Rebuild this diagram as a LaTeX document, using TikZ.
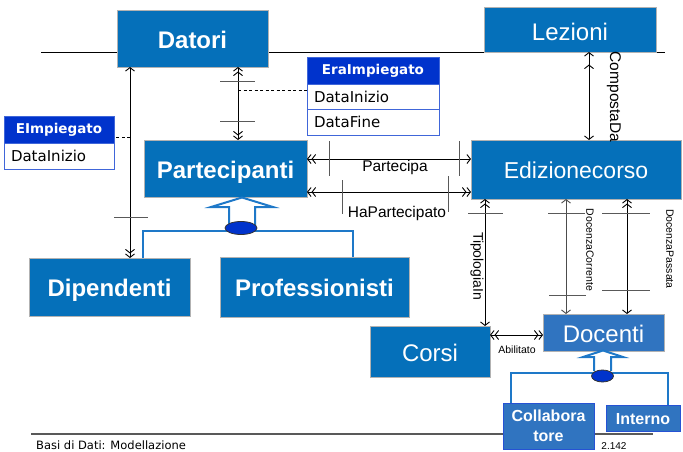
\documentclass[tikz,border=0pt]{standalone}
\usepackage{fontspec}
\setsansfont{Liberation Sans}
\newfontfamily\comicfont{DejaVu Sans}
\usetikzlibrary{arrows.meta,positioning,shapes.geometric}
\definecolor{BoxBlue}{RGB}{5,112,186}
\definecolor{SubBlue}{RGB}{48,116,192}
\definecolor{HeadBlue}{RGB}{0,51,204}
\definecolor{GenBlue}{RGB}{30,120,200}
\tikzset{
  sb/.tip={Straight Barb[length=3.5pt,width=9pt]},
  dsb/.tip={Straight Barb[length=3.5pt,width=9pt,sep=0pt] Straight Barb[length=3.5pt,width=9pt]},
  wsb/.tip={Straight Barb[length=3.5pt,width=9pt,sep=8pt] Straight Barb[length=3.5pt,width=9pt]},
  entity/.style={draw=gray!60, fill=BoxBlue, text=white, inner sep=0pt, outer sep=0pt, text height=19pt, text depth=0pt, font=\sffamily\fontsize{24}{28}\selectfont},
  strongentity/.style={entity, font=\sffamily\bfseries\fontsize{24}{28}\selectfont},
  subentity/.style={draw=HeadBlue!85, fill=SubBlue, text=white, inner sep=0pt, outer sep=0pt, align=center, font=\sffamily\bfseries\fontsize{16}{20}\selectfont},
  attrhead/.style={draw=HeadBlue!75, fill=HeadBlue, text=white, inner sep=0pt, outer sep=0pt, font=\comicfont\bfseries\fontsize{13.5}{16}\selectfont},
  attrrow/.style={draw=HeadBlue!75, fill=white, inner sep=0pt, inner xsep=7pt, outer sep=0pt, align=left, font=\comicfont\fontsize{15}{18}\selectfont},
  rel/.style={line width=0.9pt},
  tick/.style={line width=0.9pt, black!65},
  rellabel/.style={inner sep=0pt, font=\sffamily\fontsize{15.5}{18}\selectfont},
  smalllabel/.style={inner sep=0pt, font=\sffamily\fontsize{10.5}{12}\selectfont},
  isa/.style={GenBlue, line width=2pt},
  isadot/.style={ellipse, draw=black!80, fill=HeadBlue, inner sep=0pt, line width=0.8pt}
}
\begin{document}
\begin{tikzpicture}[x=1pt,y=-1pt]
\useasboundingbox (0,0) rectangle (683,451);
\draw[line width=0.9pt] (41,52) -- (665,52);
\draw[gray!70!black, line width=1.3pt] (31,434) -- (653,434);

\node[strongentity, minimum width=151pt, minimum height=57pt] (datori) at (192.5,38.5) {Datori};
\node[entity, minimum width=172pt, minimum height=45pt, text height=22pt] (lezioni) at (570,29.5) {Lezioni};
\node[strongentity, minimum width=163pt, minimum height=57pt] (partecipanti) at (225.5,168.5) {Partecipanti};
\node[entity, minimum width=210pt, minimum height=59pt, text height=17pt, font=\sffamily\fontsize{23}{28}\selectfont] (edizione) at (576,169.5) {Edizionecorso};
\node[strongentity, minimum width=161pt, minimum height=58pt] (dipendenti) at (109.5,287) {Dipendenti};
\node[strongentity, minimum width=189pt, minimum height=60pt] (professionisti) at (314.5,287) {Professionisti};
\node[entity, minimum width=120pt, minimum height=51pt] (corsi) at (430,351.5) {Corsi};
\node[entity, fill=SubBlue, minimum width=121pt, minimum height=37pt] (docenti) at (603.5,332.5) {Docenti};
\node[subentity, minimum width=91pt, minimum height=46pt] (collab) at (548.5,426) {Collabora\\tore};
\node[subentity, minimum width=74pt, minimum height=26pt, text height=12.5pt, text depth=0pt] (interno) at (643,418) {Interno};

\node[attrhead, minimum width=132pt, minimum height=27pt] (eraHead) at (373,70.5) {EraImpiegato};
\node[attrrow, text width=118pt, minimum height=25pt, below=0pt of eraHead] (eraInizio) {DataInizio};
\node[attrrow, text width=118pt, minimum height=26pt, below=0pt of eraInizio] (eraFine) {DataFine};
\node[attrhead, minimum width=110pt, minimum height=27pt] (eHead) at (59,129.5) {EImpiegato};
\node[attrrow, text width=96pt, minimum height=26pt, below=0pt of eHead] (eInizio) {DataInizio};

\draw[rel, sb-dsb] (datori.south -| 130,0) -- (dipendenti.north -| 130,0);
\draw[tick] (114,217) -- (148,217);
\draw[rel, dsb-dsb] (datori.south -| 238,0) -- (partecipanti.north -| 238,0);
\draw[tick] (220,81) -- (255,81);
\draw[tick] (220,121) -- (255,121);
\coordinate (eraLink) at (238,90);
\draw[dash pattern=on 3pt off 2.5pt, line width=0.8pt] (eraLink) -- (eraLink -| eraInizio.west);
\coordinate (eLink) at (130,137);
\draw[dash pattern=on 3pt off 2.5pt, line width=0.8pt] (eLink) -- (eLink -| eHead.east);

\draw[rel, dsb-sb] (partecipanti.east |- 0,159) -- (edizione.west |- 0,159);
\draw[tick] (329,141) -- (329,176);
\draw[tick] (459,141) -- (459,176);
\node[rellabel] (parteLbl) at (395,167) {Partecipa};
\draw[rel, dsb-dsb] (partecipanti.east |- 0,192) -- (edizione.west |- 0,192);
\draw[tick] (342,180) -- (342,214);
\draw[tick] (448,176) -- (448,212);
\node[rellabel] (haParteLbl) at (397,213) {HaPartecipato};

\draw[rel, wsb-sb] (lezioni.south -| 589,0) -- (edizione.north -| 589,0);
\node[rellabel, rotate=-90] (compostaLbl) at (614,97) {CompostaDa};

\draw[rel, dsb-sb] (edizione.south -| 485,0) -- (corsi.north -| 485,0);
\draw[tick] (468,213) -- (503,213);
\node[rellabel, rotate=-90, font=\sffamily\fontsize{14}{16}\selectfont] (tipoLbl) at (477,266) {TipologiaIn};

\draw[rel, dsb-dsb] (corsi.east |- 0,335) -- (docenti.west |- 0,335);
\node[smalllabel] (abilLbl) at (517,350) {Abilitato};

\draw[rel, black!70, sb-sb] (edizione.south -| 566,0) -- (docenti.north -| 566,0);
\draw[tick] (548,213) -- (585,213);
\draw[tick] (549,295) -- (586,295);
\node[smalllabel, rotate=-90] (corrLbl) at (590,250) {DocenzaCorrente};
\draw[rel, dsb-sb] (edizione.south -| 627,0) -- (docenti.north -| 627,0);
\draw[tick] (602,213) -- (650,213);
\draw[tick] (602,290) -- (650,290);
\node[smalllabel, rotate=-90] (passLbl) at (670,249) {DocenzaPassata};

\draw[isa, fill=white] (229,226) -- (229,207) -- (211,207) -- (242,197.5) -- (273,207) -- (255,207) -- (255,226);
\draw[isa] (dipendenti.north -| 143,0) -- (143,231) -- (353,231) -- (professionisti.north -| 353,0);
\node[isadot, minimum width=32pt, minimum height=13pt] (isaPart) at (241,228) {};

\draw[isa, fill=white] (594,371) -- (594,357) -- (583,357) -- (603,350.5) -- (623,357) -- (611,357) -- (611,371);
\draw[isa] (collab.north -| 511,0) -- (511,373) -- (668,373) -- (interno.north -| 668,0);
\node[isadot, minimum width=22pt, minimum height=12pt] (isaDoc) at (602.5,376) {};

\node[anchor=west, inner sep=0pt, font=\comicfont\fontsize{11.5}{13}\selectfont] (footer) at (36,445) {Basi di Dati: Modellazione};
\node[inner sep=0pt, font=\sffamily\fontsize{10}{12}\selectfont] (pageNo) at (614,445.5) {2.142};
\end{tikzpicture}
\end{document}
